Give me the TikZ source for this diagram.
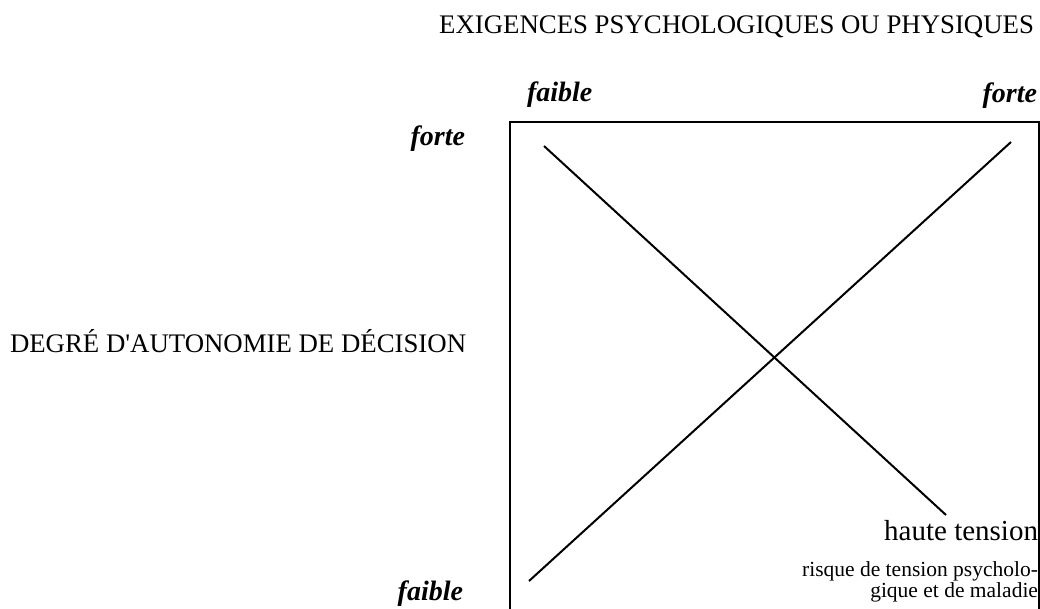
\documentclass[tikz,border=0pt]{standalone}
\usepackage{fontspec}
\setmainfont{Liberation Serif}
\newfontfamily\nomapserif{Liberation Serif}[Ligatures=ResetAll]
\begin{document}
\begin{tikzpicture}[x=1pt,y=-1pt,
  lbl/.style={inner sep=0pt,outer sep=0pt},
  axis/.style={lbl,font=\fontsize{26.8}{30}\selectfont},
  level/.style={lbl,font=\fontsize{28}{32}\selectfont\bfseries\itshape},
  frame/.style={line width=2.2pt},
  diag/.style={line width=2pt}]
\useasboundingbox (0,0) rectangle (1040,608);
% frame
\coordinate (tl) at (510,122);
\coordinate (tr) at (1039,122);
\coordinate (bl) at (510,630);
\coordinate (br) at (1039,630);
\draw[frame] (bl) -- (tl) -- (tr) -- (br);
% diagonals
\coordinate (d1a) at (544,146);
\coordinate (d1b) at (946,515);
\coordinate (d2a) at (529,581);
\coordinate (d2b) at (1011,142);
\draw[diag] (d1a) -- (d1b);
\draw[diag] (d2a) -- (d2b);
% labels
\node[axis,anchor=base east] (title) at (1034,33) {EXIGENCES PSYCHOLOGIQUES OU PHYSIQUES};
\node[axis,anchor=base west] (ydeg) at (10,352) {DEGRÉ D{\nomapserif'}AUTONOMIE DE DÉCISION};
\node[level,anchor=base west] (xlow) at (527,101) {faible};
\node[level,anchor=base east] (xhigh) at (1037,102) {forte};
\node[level,anchor=base east] (yhigh) at (465,145) {forte};
\node[level,anchor=base east] (ylow) at (463,600) {faible};
\node[lbl,anchor=base east,font=\fontsize{29}{32}\selectfont] (ht) at (1038,540) {haute tension};
\node[lbl,anchor=base east,font=\fontsize{21.5}{21}\selectfont,align=right] (risk) at (1038,597) {risque de tension psycholo-\\gique et de maladie};
\end{tikzpicture}
\end{document}
